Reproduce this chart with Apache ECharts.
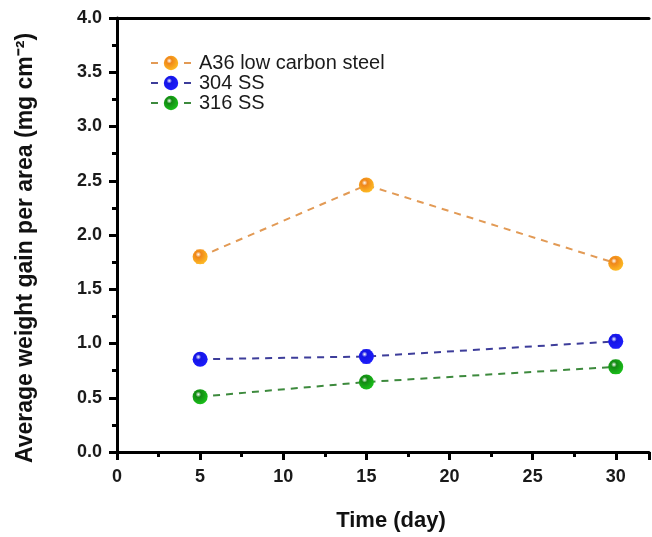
<!DOCTYPE html>
<html><head><meta charset="utf-8">
<script src="https://cdn.jsdelivr.net/npm/echarts@6/dist/echarts.min.js"></script>
<style>html,body{margin:0;padding:0;background:#fff}#c{width:652px;height:537px}</style>
</head><body><div id="c"></div>
<script>
const days = [5, 15, 30];
const seriesNames = ['A36 low carbon steel', '304 SS', '316 SS'];
const a36 = [1.80, 2.46, 1.74];
const ss304 = [0.855, 0.88, 1.02];
const ss316 = [0.51, 0.645, 0.785];
const errA36 = [0.06, 0.05, 0.05];
const err304 = [0.05, 0.06, 0.06];
const err316 = [0.05, 0.05, 0.06];
const markerColors = ['#f0871a', '#1515e6', '#138a13'];
const lineColors = ['#e29a55', '#3d3d9a', '#3d8a3d'];
const yTicks = ['0.0','0.5','1.0','1.5','2.0','2.5','3.0','3.5','4.0'];

const values = [a36, ss304, ss316];
const errs = [errA36, err304, err316];
const font = 'Arial, "Liberation Sans", sans-serif';

function sphere(c){
  return {type:'radial', x:0.38, y:0.35, r:0.75,
    colorStops:[{offset:0,color:'#ffffff'},{offset:0.25,color:c},{offset:1,color:echarts.color.lift(c,-0.45)}]};
}

const series = [];
values.forEach((v, i) => {
  series.push({
    name: 'err' + i, type:'custom', xAxisIndex:0, yAxisIndex:0, silent:true, z:3,
    data: days.map((d,k)=>[d, v[k]-errs[i][k], v[k]+errs[i][k]]),
    renderItem:(params, api)=>{
      const lo = api.coord([api.value(0), api.value(1)]);
      const hi = api.coord([api.value(0), api.value(2)]);
      const w = 4;
      const st = {stroke: markerColors[i], lineWidth:1, opacity:0.8};
      return {type:'group', children:[
        {type:'line', shape:{x1:lo[0],y1:lo[1],x2:hi[0],y2:hi[1]}, style:st},
        {type:'line', shape:{x1:lo[0]-w,y1:lo[1],x2:lo[0]+w,y2:lo[1]}, style:st},
        {type:'line', shape:{x1:hi[0]-w,y1:hi[1],x2:hi[0]+w,y2:hi[1]}, style:st}
      ]};
    }
  });
});
values.forEach((v, i) => {
  series.push({
    name: seriesNames[i], type:'line', xAxisIndex:0, yAxisIndex:0, z:4,
    data: days.map((d,k)=>[d, v[k]]),
    symbol:'circle', symbolSize:15,
    lineStyle:{color: lineColors[i], width:2, type:[7,6]},
    itemStyle:{color: sphere(markerColors[i]), borderWidth:0},
    emphasis:{disabled:true}
  });
});

const chart = echarts.init(document.getElementById('c'), null, {renderer:'canvas'});
chart.setOption({
  animation:false,
  backgroundColor:'#fff',
  grid:{left:117, right:0, top:18, bottom:80},
  legend:{
    data: seriesNames.map((n,i)=>({name:n,
      lineStyle:{color: lineColors[i], width:2, type:[7,26]},
      itemStyle:{color: sphere(markerColors[i])}})),
    orient:'vertical', left:145, top:48, itemGap:0, itemWidth:40, itemHeight:18,
    textStyle:{fontFamily:font, fontSize:20, color:'#1a1a1a', padding:[0,0,0,3]}
  },
  xAxis:[{
    type:'value', min:0, max:32, interval:5, position:'bottom',
    axisLine:{lineStyle:{color:'#000', width:3}},
    axisTick:{inside:false, length:8, lineStyle:{width:3, color:'#000'}},
    minorTick:{show:true, splitNumber:2, length:5, lineStyle:{width:3, color:'#000'}},
    splitLine:{show:false},
    axisLabel:{fontFamily:font, fontSize:18, fontWeight:'bold', color:'#1a1a1a', margin:16,
      formatter:v=> (v%5===0 && v<=30) ? String(v) : ''},
    name:'Time (day)', nameLocation:'middle', nameGap:58,
    nameTextStyle:{fontFamily:font, fontSize:22, fontWeight:'bold', color:'#111', padding:[0,0,0,16]}
  },{
    type:'value', min:0, max:32, position:'top',
    axisLine:{show:true, onZero:false, lineStyle:{color:'#000', width:3}},
    axisTick:{show:false}, axisLabel:{show:false}, splitLine:{show:false}
  }],
  yAxis:{
    type:'value', min:0, max:4, interval:0.5,
    axisLine:{show:true, lineStyle:{color:'#000', width:3}},
    axisTick:{show:true, length:8, lineStyle:{width:3, color:'#000'}},
    minorTick:{show:true, splitNumber:2, length:5, lineStyle:{width:3, color:'#000'}},
    splitLine:{show:false},
    axisLabel:{fontFamily:font, fontSize:18, fontWeight:'bold', color:'#1a1a1a', margin:15,
      formatter:v=> yTicks[Math.round(v*2)]},
    name:'Average weight gain per area (mg cm\u207B\u00B2)', nameLocation:'middle', nameGap:80, nameRotate:90,
    nameTextStyle:{fontFamily:font, fontSize:23, fontWeight:'bold', color:'#111', padding:[0,26,0,0]}
  },
  series: series
});
</script></body></html>
